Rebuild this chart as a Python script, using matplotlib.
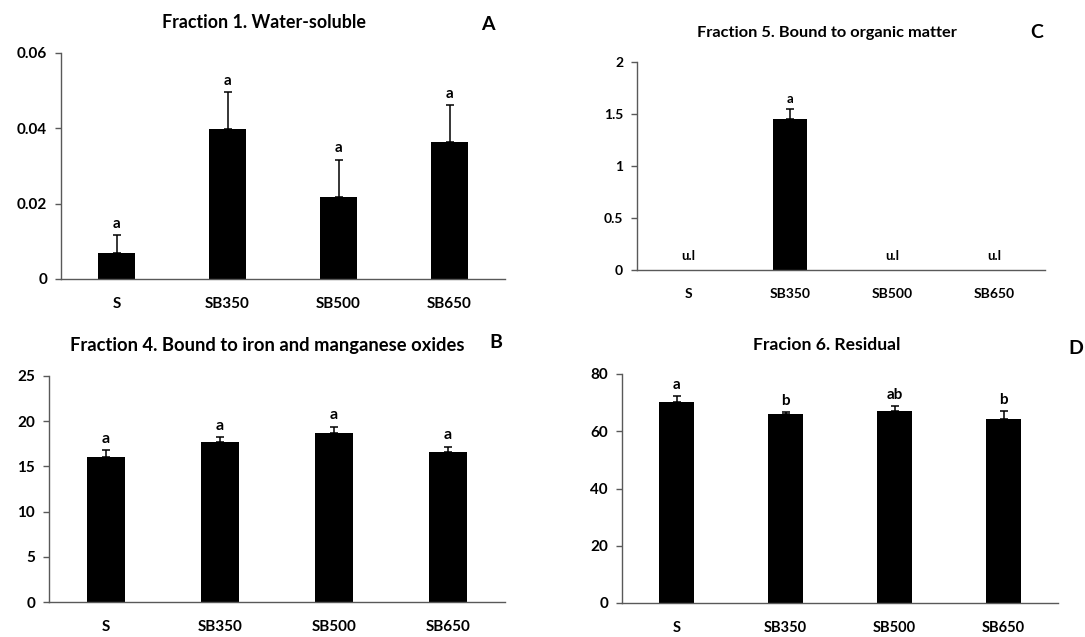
import matplotlib
matplotlib.use("Agg")
from matplotlib import pyplot as plt

plt.rcParams['font.family'] = ['Lato', 'DejaVu Sans']
plt.rcParams['font.weight'] = 'bold'

## 四个处理组
groups = ["S", "SB350", "SB500", "SB650"]

## Fraction 1. Water-soluble
f1_mean = [0.007, 0.0397, 0.0218, 0.0364]
f1_err = [0.0047, 0.0100, 0.0099, 0.0098]
f1_sig = ["a", "a", "a", "a"]

## Fraction 4. Bound to iron and manganese oxides
f4_mean = [16.0, 17.65, 18.7, 16.6]
f4_err = [0.8, 0.55, 0.7, 0.6]
f4_sig = ["a", "a", "a", "a"]

## Fraction 5. Bound to organic matter (u.l = under limit)
f5_mean = [0, 1.45, 0, 0]
f5_err = [0, 0.10, 0, 0]
f5_sig = ["u.l", "a", "u.l", "u.l"]

## Fracion 6. Residual
f6_mean = [70.3, 66.1, 67.1, 64.3]
f6_err = [2.0, 0.7, 1.6, 2.8]
f6_sig = ["a", "b", "ab", "b"]

W, H = 1085, 637
fig = plt.figure(figsize=(W / 100, H / 100), dpi=100)


def px_axes(left, top, right, bottom):
    return fig.add_axes([left / W, 1 - bottom / H, (right - left) / W, (bottom - top) / H])


def panel(ax, mean, err, sig, yticks, ylabels, bar_w, fs_y, fs_x, fs_sig):
    x = range(len(groups))
    ax.bar(x, mean, width=bar_w, color="black", linewidth=0, zorder=2)
    for i in x:
        if err[i] > 0:
            ax.errorbar(i, mean[i], yerr=[[0], [err[i]]], fmt="none",
                        ecolor="black", elinewidth=1.1, capsize=3, capthick=1.1, zorder=3)
    for i in x:
        if sig[i] == "u.l":
            ax.annotate(sig[i], (i, 0), xytext=(0, 6), textcoords="offset points",
                        ha="center", va="bottom", fontsize=fs_sig, fontweight="bold")
        else:
            ax.annotate(sig[i], (i, mean[i] + err[i]), xytext=(0, 3),
                        textcoords="offset points", ha="center", va="bottom",
                        fontsize=fs_sig, fontweight="bold")
    ax.set_xlim(-0.5, len(groups) - 0.5)
    ax.set_ylim(yticks[0], yticks[-1])
    ax.set_yticks(yticks)
    ax.set_yticklabels(ylabels, fontsize=fs_y, fontweight="bold")
    ax.set_xticks(list(x))
    ax.set_xticklabels(groups, fontsize=fs_x, fontweight="bold")
    ax.tick_params(axis="x", length=0, pad=13)
    ax.tick_params(axis="y", length=4, width=1, color="#595959", pad=6)
    for s in ["top", "right"]:
        ax.spines[s].set_visible(False)
    for s in ["left", "bottom"]:
        ax.spines[s].set_color("#595959")
        ax.spines[s].set_linewidth(1)


axA = px_axes(61, 53, 505, 279)
panel(axA, f1_mean, f1_err, f1_sig, [0, 0.02, 0.04, 0.06],
      ["0", "0.02", "0.04", "0.06"], 0.33, 11, 11, 11)

axC = px_axes(637, 62, 1045, 270)
panel(axC, f5_mean, f5_err, f5_sig, [0, 0.5, 1, 1.5, 2],
      ["0", "0.5", "1", "1.5", "2"], 0.33, 10, 10, 9.5)

axB = px_axes(49, 376, 505, 602)
panel(axB, f4_mean, f4_err, f4_sig, [0, 5, 10, 15, 20, 25],
      ["0", "5", "10", "15", "20", "25"], 0.33, 11, 11, 11.5)

axD = px_axes(622, 374, 1058, 603)
panel(axD, f6_mean, f6_err, f6_sig, [0, 20, 40, 60, 80],
      ["0", "20", "40", "60", "80"], 0.32, 11, 10.5, 11)

## 标题和面板字母
def ftext(x, y, s, size, **kw):
    fig.text(x / W, 1 - y / H, s, fontsize=size, fontweight="bold",
             ha="center", va="center", **kw)

ftext(264, 22, "Fraction 1. Water-soluble", 12.9)
ftext(488, 25, "A", 14)
ftext(827, 33, "Fraction 5. Bound to organic matter", 11.8)
ftext(1037, 33, "C", 14)
ftext(267, 345, "Fraction 4. Bound to iron and manganese oxides", 13.2)
ftext(496, 342, "B", 14)
ftext(827, 345, "Fracion 6. Residual", 12.6)
ftext(1076, 349, "D", 14)

fig.savefig("out.png", dpi=100)
